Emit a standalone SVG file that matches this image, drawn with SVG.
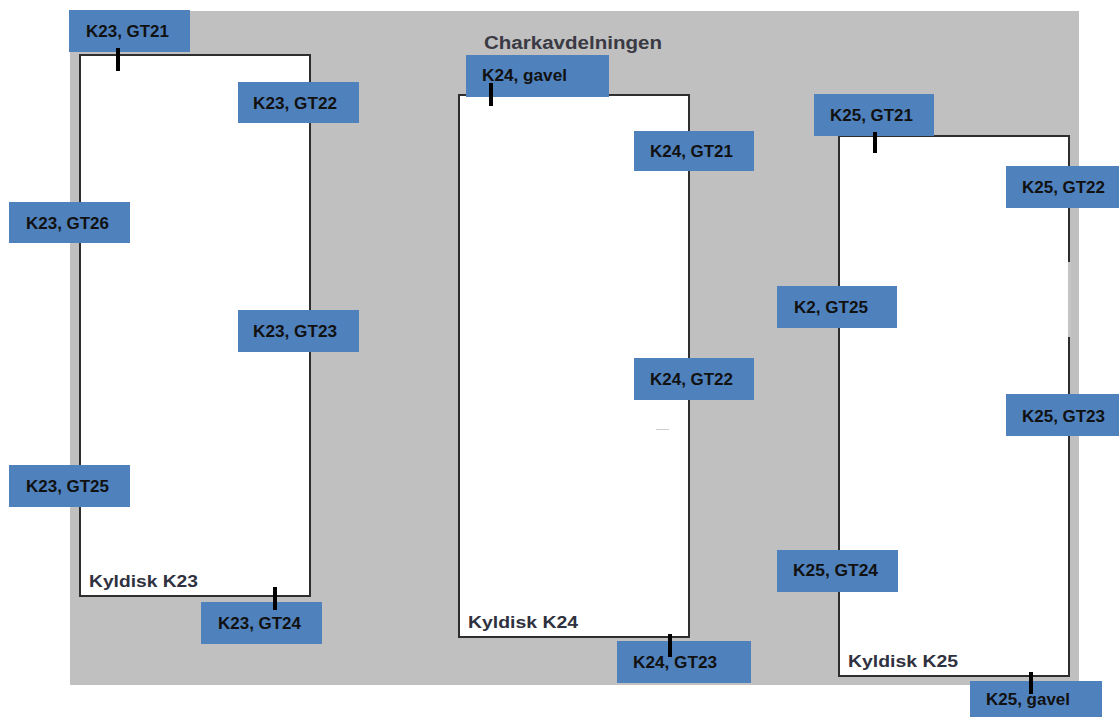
<svg xmlns="http://www.w3.org/2000/svg" width="1119" height="717" viewBox="0 0 1119 717">
  <style>
    .bg { fill: #c0c0c0; }
    .case { fill: #ffffff; stroke: #2e2e2e; stroke-width: 2; }
    .tag { fill: #4f81bd; }
    .tag-text { font-family: "Liberation Sans", Arial, sans-serif; font-weight: bold; font-size: 17px; fill: #111111; }
    .case-name { font-family: "Liberation Sans", Arial, sans-serif; font-weight: bold; font-size: 16px; fill: #2f3140; }
    .title { font-family: "Liberation Sans", Arial, sans-serif; font-weight: bold; font-size: 18px; fill: #3a3a44; }
    .probe { stroke: #000000; stroke-width: 4; }
  </style>

  <!-- floor area -->
  <rect class="bg" x="70" y="11" width="1009" height="674"/>
  <text class="title" x="484" y="49" textLength="178" lengthAdjust="spacingAndGlyphs">Charkavdelningen</text>

  <!-- display cases -->
  <g id="case-k23">
    <rect class="case" x="80" y="55" width="230" height="541"/>
    <text class="case-name" x="89" y="587" textLength="109" lengthAdjust="spacingAndGlyphs">Kyldisk K23</text>
  </g>
  <g id="case-k24">
    <rect class="case" x="459" y="95" width="230" height="542"/>
    <line x1="656" y1="429.5" x2="669" y2="429.5" stroke="#cccccc" stroke-width="1"/>
    <text class="case-name" x="468" y="628" textLength="110" lengthAdjust="spacingAndGlyphs">Kyldisk K24</text>
  </g>
  <g id="case-k25">
    <rect class="case" x="839" y="136" width="230" height="540"/>
    <!-- lighter segment of the right wall -->
    <line x1="1069" y1="262" x2="1069" y2="337" stroke="#ffffff" stroke-width="2.2"/>
    <line x1="1069" y1="262" x2="1069" y2="337" stroke="#8a8a8a" stroke-width="1"/>
    <text class="case-name" x="848" y="667" textLength="110" lengthAdjust="spacingAndGlyphs">Kyldisk K25</text>
  </g>

  <!-- sensor tags -->
  <g id="k23-gt21"><rect class="tag" x="69" y="10" width="121" height="42"/><text class="tag-text" x="86" y="37" textLength="83" lengthAdjust="spacingAndGlyphs">K23, GT21</text></g>
  <g id="k23-gt22"><rect class="tag" x="238" y="82" width="121" height="41"/><text class="tag-text" x="253" y="109" textLength="84" lengthAdjust="spacingAndGlyphs">K23, GT22</text></g>
  <g id="k23-gt23"><rect class="tag" x="238" y="310" width="121" height="42"/><text class="tag-text" x="253" y="337" textLength="84" lengthAdjust="spacingAndGlyphs">K23, GT23</text></g>
  <g id="k23-gt24"><rect class="tag" x="201" y="602" width="121" height="42"/><text class="tag-text" x="218" y="629" textLength="83" lengthAdjust="spacingAndGlyphs">K23, GT24</text></g>
  <g id="k23-gt25"><rect class="tag" x="9" y="465" width="121" height="42"/><text class="tag-text" x="26" y="492" textLength="83" lengthAdjust="spacingAndGlyphs">K23, GT25</text></g>
  <g id="k23-gt26"><rect class="tag" x="9" y="202" width="121" height="41"/><text class="tag-text" x="26" y="229" textLength="83" lengthAdjust="spacingAndGlyphs">K23, GT26</text></g>

  <g id="k24-gavel"><rect class="tag" x="466" y="55" width="143" height="42"/><text class="tag-text" x="482" y="81" textLength="85" lengthAdjust="spacingAndGlyphs">K24, gavel</text></g>
  <g id="k24-gt21"><rect class="tag" x="634" y="131" width="120" height="40"/><text class="tag-text" x="650" y="157" textLength="83" lengthAdjust="spacingAndGlyphs">K24, GT21</text></g>
  <g id="k24-gt22"><rect class="tag" x="634" y="358" width="120" height="42"/><text class="tag-text" x="650" y="385" textLength="83" lengthAdjust="spacingAndGlyphs">K24, GT22</text></g>
  <g id="k24-gt23"><rect class="tag" x="617" y="641" width="134" height="42"/><text class="tag-text" x="633" y="668" textLength="84" lengthAdjust="spacingAndGlyphs">K24, GT23</text></g>

  <g id="k25-gt21"><rect class="tag" x="814" y="94" width="120" height="42"/><text class="tag-text" x="830" y="121" textLength="83" lengthAdjust="spacingAndGlyphs">K25, GT21</text></g>
  <g id="k25-gt22"><rect class="tag" x="1006" y="166" width="113" height="42"/><text class="tag-text" x="1022" y="193" textLength="83" lengthAdjust="spacingAndGlyphs">K25, GT22</text></g>
  <g id="k25-gt23"><rect class="tag" x="1006" y="394" width="113" height="42"/><text class="tag-text" x="1022" y="422" textLength="83" lengthAdjust="spacingAndGlyphs">K25, GT23</text></g>
  <g id="k25-gt24"><rect class="tag" x="777" y="550" width="121" height="42"/><text class="tag-text" x="793" y="576" textLength="85" lengthAdjust="spacingAndGlyphs">K25, GT24</text></g>
  <g id="k25-gt25"><rect class="tag" x="777" y="286" width="120" height="42"/><text class="tag-text" x="794" y="313" textLength="74" lengthAdjust="spacingAndGlyphs">K2, GT25</text></g>
  <g id="k25-gavel"><rect class="tag" x="970" y="681" width="132" height="36"/><text class="tag-text" x="986" y="705" textLength="84" lengthAdjust="spacingAndGlyphs">K25, gavel</text></g>

  <!-- sensor positions, drawn over the tags -->
  <g id="probes">
    <line class="probe" x1="118" y1="48" x2="118" y2="71"/>
    <line class="probe" x1="491" y1="83" x2="491" y2="106"/>
    <line class="probe" x1="875" y1="132" x2="875" y2="153"/>
    <line class="probe" x1="275" y1="587" x2="275" y2="610"/>
    <line class="probe" x1="670" y1="634" x2="670" y2="657"/>
    <line class="probe" x1="1031" y1="672" x2="1031" y2="694"/>
  </g>
</svg>
